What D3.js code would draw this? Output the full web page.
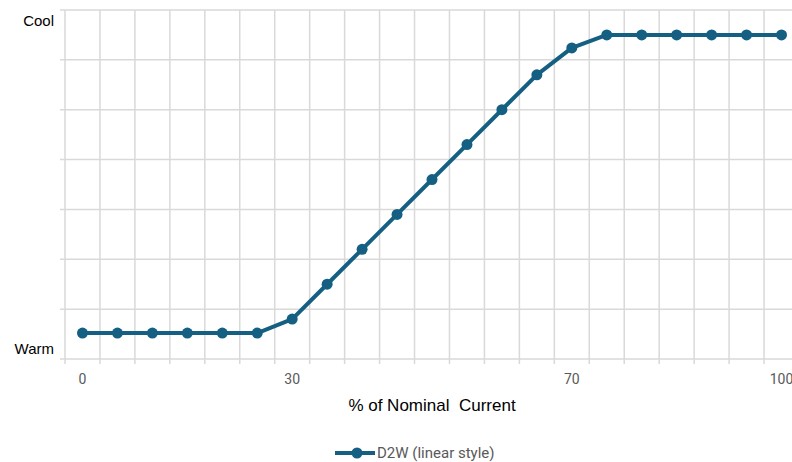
<!DOCTYPE html>
<html>

<head>
    <script type="text/javascript" src="https://d3js.org/d3.v7.min.js"></script>
    <style>
        body {
            margin: 0;
            font-family: Arial;
            background: #fff;
        }
    </style>
</head>

<body>
    <div id="svgcontainer"></div>
    <script>
        var width = 792;
        var height = 462;

        // % of nominal current (categories) and the colour position (0 = warm end, 7 = cool end)
        var categories = [0, 5, 10, 15, 20, 25, 30, 35, 40, 45, 50, 55, 60, 65, 70, 75, 80, 85, 90, 95, 100];
        var d2wValues = [0.52, 0.52, 0.52, 0.52, 0.52, 0.52, 0.8, 1.5, 2.2, 2.9, 3.6, 4.3, 5.0, 5.7, 6.24, 6.5, 6.5, 6.5, 6.5, 6.5, 6.5];
        var xTickLabels = { 0: "0", 30: "30", 70: "70", 100: "100" };
        var yTicks = [0, 1, 2, 3, 4, 5, 6, 7];
        var yLabels = [{ text: "Cool", value: 6.67 }, { text: "Warm", value: 0.1 }];
        var seriesName = "D2W (linear style)";

        var lineColor = "#156082";
        var gridColor = "#d9d9d9";

        var svg = d3.select("#svgcontainer")
            .append("svg")
            .attr("width", width)
            .attr("height", height);

        var plot = { left: 65, right: 799, top: 10, bottom: 359 };

        var x = d3.scaleBand().domain(categories).range([plot.left, plot.right]);
        var y = d3.scaleLinear().domain([0, 7]).range([plot.bottom, plot.top]);

        // horizontal gridlines plus small ticks on the left
        svg.append("g").selectAll("line").data(yTicks).join("line")
            .attr("x1", plot.left - 5).attr("x2", plot.right)
            .attr("y1", d => y(d)).attr("y2", d => y(d))
            .attr("stroke", gridColor).attr("stroke-width", 1.5);

        // vertical gridlines at category boundaries, with ticks below the axis
        var bounds = categories.map(c => x(c)).concat([plot.right]);
        svg.append("g").selectAll("line").data(bounds).join("line")
            .attr("x1", d => d).attr("x2", d => d)
            .attr("y1", plot.top).attr("y2", plot.bottom + 5)
            .attr("stroke", gridColor).attr("stroke-width", 1.5);

        // x tick labels
        svg.append("g").selectAll("text").data(categories.filter(c => xTickLabels[c] !== undefined)).join("text")
            .attr("x", d => x(d) + x.bandwidth() / 2)
            .attr("y", 384)
            .attr("text-anchor", "middle")
            .attr("font-family", "Roboto, Arial")
            .attr("font-size", 14)
            .attr("fill", "#595959")
            .text(d => xTickLabels[d]);

        // y labels
        svg.append("g").selectAll("text").data(yLabels).join("text")
            .attr("x", 54)
            .attr("y", d => y(d.value))
            .attr("text-anchor", "end")
            .attr("font-size", 15)
            .attr("fill", "#000")
            .text(d => d.text);

        // axis title
        svg.append("text")
            .attr("x", 432).attr("y", 411)
            .attr("text-anchor", "middle")
            .attr("font-size", 17)
            .attr("fill", "#000")
            .style("white-space", "pre")
            .text("% of Nominal  Current");

        // series
        var pts = categories.map((c, i) => ({ c: c, v: d2wValues[i] }));
        var line = d3.line().x(d => x(d.c) + x.bandwidth() / 2).y(d => y(d.v));

        svg.append("path").datum(pts)
            .attr("d", line)
            .attr("fill", "none")
            .attr("stroke", lineColor)
            .attr("stroke-width", 4)
            .attr("stroke-linejoin", "round");

        svg.append("g").selectAll("circle").data(pts).join("circle")
            .attr("cx", d => x(d.c) + x.bandwidth() / 2)
            .attr("cy", d => y(d.v))
            .attr("r", 5.5)
            .attr("fill", lineColor);

        // legend
        var legend = svg.append("g").attr("transform", "translate(335,453)");
        legend.append("line").attr("x1", 0).attr("x2", 40).attr("y1", 0).attr("y2", 0)
            .attr("stroke", lineColor).attr("stroke-width", 4);
        legend.append("circle").attr("cx", 22).attr("cy", 0).attr("r", 5.5).attr("fill", lineColor);
        legend.append("text").attr("x", 42).attr("y", 5)
            .attr("font-family", "Roboto, Arial")
            .attr("font-size", 15)
            .attr("fill", "#595959")
            .text(seriesName);
    </script>
</body>

</html>
